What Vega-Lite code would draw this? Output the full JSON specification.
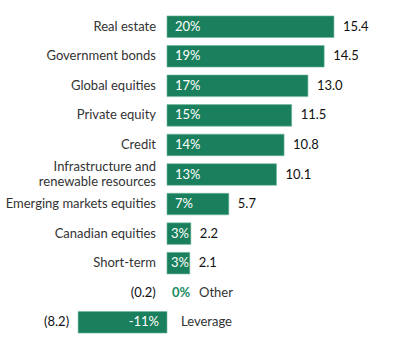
{
  "$schema": "https://vega.github.io/schema/vega-lite/v6.json",
  "width": 400,
  "height": 329,
  "autosize": "none",
  "padding": {"top": 10, "left": 0, "right": 0, "bottom": 0},
  "background": "white",
  "config": {"view": {"stroke": null}, "font": "Lato"},
  "data": {
    "values": [
      {"cat": "Real estate", "value": 15.4, "pct": "20%", "num": "15.4"},
      {"cat": "Government bonds", "value": 14.5, "pct": "19%", "num": "14.5"},
      {"cat": "Global equities", "value": 13.0, "pct": "17%", "num": "13.0"},
      {"cat": "Private equity", "value": 11.5, "pct": "15%", "num": "11.5"},
      {"cat": "Credit", "value": 10.8, "pct": "14%", "num": "10.8"},
      {"cat": "Infrastructure and\nrenewable resources", "value": 10.1, "pct": "13%", "num": "10.1"},
      {"cat": "Emerging markets equities", "value": 5.7, "pct": "7%", "num": "5.7"},
      {"cat": "Canadian equities", "value": 2.2, "pct": "3%", "num": "2.2"},
      {"cat": "Short-term", "value": 2.1, "pct": "3%", "num": "2.1"},
      {"cat": "Other", "value": -0.2, "pct": "0%", "num": "(0.2)"},
      {"cat": "Leverage", "value": -8.2, "pct": "-11%", "num": "(8.2)"}
    ]
  },
  "encoding": {
    "y": {"field": "cat", "type": "nominal", "sort": null, "axis": null,
          "scale": {"paddingInner": 0.27, "paddingOuter": 0.2,
                    "domain": ["Real estate", "Government bonds", "Global equities", "Private equity", "Credit", "Infrastructure and\nrenewable resources", "Emerging markets equities", "Canadian equities", "Short-term", "Other", "Leverage"]}}
  },
  "layer": [
    {
      "transform": [{"filter": "abs(datum.value) >= 0.5"}],
      "mark": {"type": "bar", "color": "#1a7f5c", "stroke": "#6fb898", "strokeWidth": 0.6},
      "encoding": {
        "x": {"field": "value", "type": "quantitative", "axis": null,
              "scale": {"domain": [-15.406, 21.494], "nice": false, "zero": false}}
      }
    },
    {
      "mark": {"type": "rule", "color": "#808080", "strokeWidth": 1, "y": -2, "y2": 333},
      "encoding": {"x": {"datum": 0, "type": "quantitative"}}
    },
    {
      "transform": [{"filter": "datum.value >= 0 && indexof(datum.cat, '\\n') < 0"}],
      "mark": {"type": "text", "align": "right", "baseline": "middle", "dx": -11, "fontSize": 13, "color": "#333333"},
      "encoding": {"x": {"datum": 0, "type": "quantitative"}, "text": {"field": "cat"}}
    },
    {
      "transform": [{"filter": "indexof(datum.cat, '\\n') >= 0"}],
      "mark": {"type": "text", "align": "right", "baseline": "middle", "dx": -11, "dy": -7.5, "fontSize": 13, "color": "#333333", "lineBreak": "\n", "lineHeight": 15},
      "encoding": {"x": {"datum": 0, "type": "quantitative"}, "text": {"field": "cat"}}
    },
    {
      "transform": [{"filter": "datum.cat == 'Other'"}],
      "mark": {"type": "text", "align": "left", "baseline": "middle", "dx": 32, "fontSize": 13, "color": "#333333"},
      "encoding": {"x": {"datum": 0, "type": "quantitative"}, "text": {"field": "cat"}}
    },
    {
      "transform": [{"filter": "datum.cat == 'Leverage'"}],
      "mark": {"type": "text", "align": "left", "baseline": "middle", "dx": 14, "fontSize": 13, "color": "#333333"},
      "encoding": {"x": {"datum": 0, "type": "quantitative"}, "text": {"field": "cat"}}
    },
    {
      "transform": [{"filter": "datum.value >= 0"}],
      "mark": {"type": "text", "align": "left", "baseline": "middle", "dx": 9, "fontSize": 13, "color": "#111111"},
      "encoding": {"x": {"field": "value", "type": "quantitative"}, "text": {"field": "num"}}
    },
    {
      "transform": [{"filter": "datum.value < 0"}],
      "mark": {"type": "text", "align": "right", "baseline": "middle", "dx": -9, "fontSize": 13, "color": "#111111"},
      "encoding": {"x": {"field": "value", "type": "quantitative"}, "text": {"field": "num"}}
    },
    {
      "transform": [{"filter": "datum.value >= 3"}],
      "mark": {"type": "text", "align": "left", "baseline": "middle", "dx": 8, "fontSize": 13, "color": "white"},
      "encoding": {"x": {"datum": 0, "type": "quantitative"}, "text": {"field": "pct"}}
    },
    {
      "transform": [{"filter": "datum.value > 0 && datum.value < 3"}],
      "mark": {"type": "text", "align": "left", "baseline": "middle", "dx": 4, "fontSize": 13, "color": "white"},
      "encoding": {"x": {"datum": 0, "type": "quantitative"}, "text": {"field": "pct"}}
    },
    {
      "transform": [{"filter": "datum.cat == 'Other'"}],
      "mark": {"type": "text", "align": "left", "baseline": "middle", "dx": 5, "fontSize": 13, "fontWeight": "bold", "color": "#1a8a62"},
      "encoding": {"x": {"datum": 0, "type": "quantitative"}, "text": {"field": "pct"}}
    },
    {
      "transform": [{"filter": "datum.cat == 'Leverage'"}],
      "mark": {"type": "text", "align": "right", "baseline": "middle", "dx": -8, "fontSize": 13, "color": "white"},
      "encoding": {"x": {"datum": 0, "type": "quantitative"}, "text": {"field": "pct"}}
    }
  ]
}
